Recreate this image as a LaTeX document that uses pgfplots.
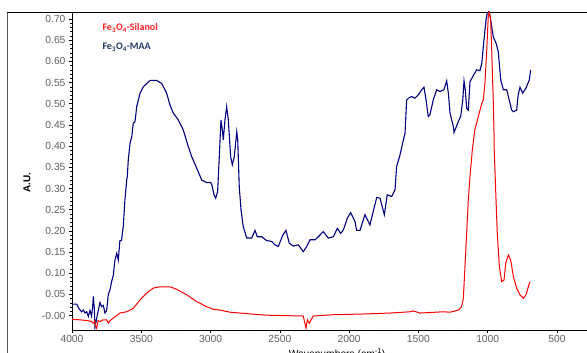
\documentclass[border=0pt]{standalone}
\usepackage{fontspec}
\setmainfont{Liberation Sans}
\newfontfamily\legfont{Carlito}
\usepackage{pgfplots}
\pgfplotsset{compat=1.18}
\definecolor{navyline}{RGB}{0,0,128}
\definecolor{legblue}{RGB}{31,56,100}
\definecolor{legred}{RGB}{255,32,32}
\definecolor{tickgray}{RGB}{95,95,95}
\definecolor{framegray}{RGB}{90,90,90}
\begin{document}
\begin{tikzpicture}[x=1pt,y=1pt]
\clip (-72,-23) rectangle (515,330);
\begin{axis}[
  at={(0,0)}, anchor=south west,
  scale only axis, width=554.3pt, height=318pt,
  x dir=reverse, xmin=0, xmax=4000, ymin=-0.034, ymax=0.7165,
  /pgf/number format/assume math mode=true,
  xtick={500,1000,1500,2000,2500,3000,3500,4000},
  xticklabels={500,1000,1500,2000,2500,3000,3500,4000},
  ytick={0,0.05,0.10,0.15,0.20,0.25,0.30,0.35,0.40,0.45,0.50,0.55,0.60,0.65,0.70},
  yticklabels={-0.00,0.05,0.10,0.15,0.20,0.25,0.30,0.35,0.40,0.45,0.50,0.55,0.60,0.65,0.70},
  minor x tick num=4, minor y tick num=4,
  xtick pos=bottom,
  tick align=outside,
  major tick length=3pt, minor tick length=1.5pt,
  every tick/.style={black, line width=0.5pt},
  tick label style={font=\fontsize{10.3}{12}\selectfont, text=tickgray},
  xticklabel style={yshift=1pt},
  axis line style={black, line width=0.6pt},
  clip=true,
]
\addplot[navyline, line width=1.1pt] coordinates {
(4000,0.027)(3966,0.027)(3947,0.015)(3930,0.009)(3918,0.013)(3906,0.006)(3894,0.009)(3882,-0.002)(3870,0.012)(3859,-0.001)(3851,0.021)(3846,0.045)(3839,0.017)(3834,-0.028)(3817,0.002)(3798,0.031)(3786,0.021)(3774,0.024)(3762,0.006)(3750,0.012)(3738,0.049)(3726,0.061)(3714,0.080)(3702,0.095)(3690,0.131)(3677,0.147)(3666,0.131)(3654,0.177)(3643,0.177)(3630,0.210)(3618,0.273)(3605,0.320)(3601,0.328)(3594,0.367)(3581,0.407)(3569,0.422)(3558,0.454)(3545,0.458)(3533,0.493)(3509,0.525)(3485,0.540)(3437,0.555)(3389,0.555)(3353,0.548)(3317,0.525)(3293,0.497)(3269,0.478)(3233,0.462)(3197,0.438)(3161,0.399)(3136,0.375)(3100,0.348)(3064,0.320)(3028,0.314)(2999,0.314)(2990,0.308)(2975,0.285)(2963,0.277)(2949,0.293)(2937,0.375)(2925,0.462)(2915,0.438)(2908,0.415)(2896,0.462)(2884,0.493)(2872,0.462)(2855,0.375)(2843,0.356)(2829,0.375)(2811,0.434)(2804,0.415)(2793,0.304)(2780,0.249)(2764,0.210)(2739,0.183)(2703,0.183)(2679,0.201)(2663,0.186)(2631,0.186)(2595,0.177)(2559,0.175)(2535,0.167)(2511,0.163)(2479,0.190)(2456,0.201)(2432,0.171)(2403,0.164)(2367,0.167)(2331,0.151)(2306,0.163)(2282,0.179)(2246,0.179)(2223,0.186)(2187,0.198)(2150,0.183)(2114,0.186)(2085,0.206)(2061,0.194)(2042,0.202)(2013,0.230)(1989,0.243)(1958,0.222)(1946,0.201)(1922,0.201)(1886,0.238)(1850,0.214)(1801,0.279)(1777,0.277)(1746,0.238)(1725,0.285)(1693,0.281)(1669,0.297)(1657,0.352)(1633,0.379)(1614,0.407)(1597,0.430)(1585,0.509)(1573,0.513)(1549,0.517)(1525,0.513)(1501,0.521)(1476,0.533)(1460,0.539)(1445,0.509)(1429,0.470)(1417,0.474)(1393,0.509)(1368,0.533)(1344,0.529)(1316,0.533)(1296,0.554)(1284,0.525)(1272,0.478)(1248,0.446)(1243,0.432)(1212,0.458)(1195,0.470)(1180,0.509)(1171,0.554)(1162,0.533)(1152,0.489)(1140,0.485)(1128,0.552)(1108,0.564)(1080,0.580)(1056,0.578)(1043,0.595)(1027,0.651)(1012,0.698)(1003,0.714)(993,0.717)(984,0.710)(971,0.682)(960,0.658)(940,0.643)(924,0.623)(906,0.556)(887,0.533)(863,0.533)(839,0.501)(827,0.485)(815,0.481)(791,0.485)(780,0.521)(767,0.539)(748,0.525)(724,0.537)(700,0.556)(690,0.580)
};
\addplot[red, line width=1.0pt] coordinates {
(4000,-0.009)(3942,-0.010)(3885,-0.012)(3860,-0.014)(3846,-0.018)(3835,-0.012)(3830,-0.024)(3822,-0.030)(3812,-0.012)(3798,-0.014)(3776,-0.010)(3750,-0.010)(3738,-0.018)(3726,-0.012)(3702,-0.006)(3654,0.006)(3605,0.009)(3558,0.017)(3509,0.037)(3461,0.053)(3413,0.065)(3365,0.068)(3293,0.068)(3244,0.062)(3172,0.049)(3100,0.033)(3028,0.021)(2980,0.015)(2932,0.013)(2860,0.008)(2715,0.004)(2600,0.001)(2475,0.000)(2331,-0.001)(2311,-0.030)(2302,-0.010)(2288,-0.018)(2259,-0.001)(2114,0.002)(1873,0.004)(1705,0.006)(1561,0.009)(1537,0.011)(1489,0.006)(1321,0.009)(1272,0.008)(1212,0.013)(1190,0.020)(1176,0.040)(1164,0.116)(1152,0.194)(1140,0.273)(1128,0.328)(1111,0.391)(1093,0.438)(1068,0.470)(1043,0.500)(1032,0.509)(1020,0.548)(1007,0.627)(996,0.706)(989,0.717)(979,0.698)(971,0.627)(964,0.548)(960,0.509)(955,0.438)(953,0.391)(940,0.273)(931,0.194)(916,0.116)(899,0.080)(882,0.084)(870,0.124)(851,0.143)(834,0.131)(815,0.092)(791,0.065)(767,0.049)(743,0.041)(724,0.049)(707,0.068)(695,0.080)
};
\end{axis}
\draw[framegray, line width=0.8pt] (-65,-30) -- (-65,318);
\draw[black, line width=0.6pt] (-65,318) -- (0,318);
\node[rotate=90, font=\bfseries\fontsize{10}{12}\selectfont] at (-45,147) {A.U.};
\node[anchor=north, font=\fontsize{10.3}{12}\selectfont] at (265,-15) {Wavenumbers (cm\textsuperscript{-1})};
\node[anchor=west, text=legred, font=\legfont\bfseries\fontsize{10}{12}\selectfont] at (27,302) {Fe\textsubscript{3}O\textsubscript{4}-Silanol};
\node[anchor=west, text=legblue, font=\legfont\bfseries\fontsize{10}{12}\selectfont] at (27,283) {Fe\textsubscript{3}O\textsubscript{4}-MAA};
\end{tikzpicture}
\end{document}
